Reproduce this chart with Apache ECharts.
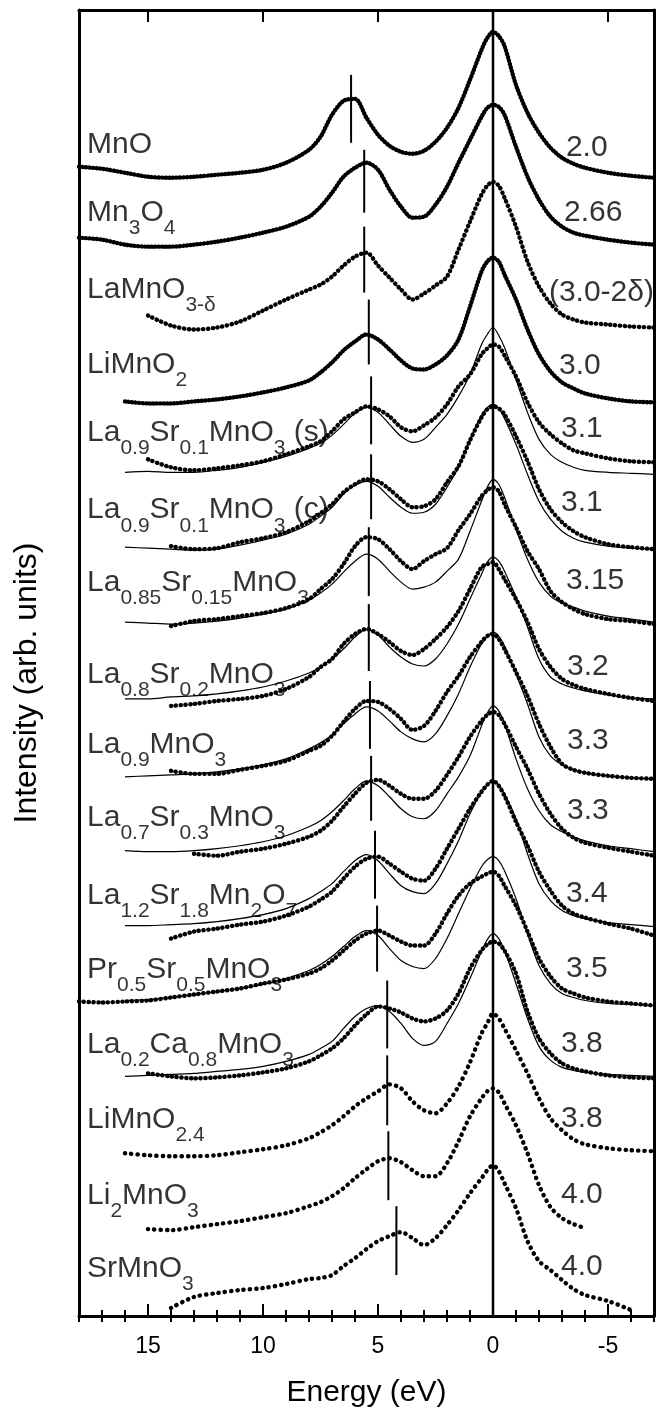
<!DOCTYPE html>
<html><head><meta charset="utf-8">
<script src="https://cdn.jsdelivr.net/npm/echarts@6/dist/echarts.min.js"></script>
<style>html,body{margin:0;padding:0;background:#fff}#c{width:657px;height:1413px}</style>
</head><body><div id="c"></div>
<script>
// ---------- data ----------
const energy = [18,17,16,15,14,13,12,11,10,9,8,7.5,7,6.5,6,5.5,5,4.5,4,3.5,3,2.5,2,1.5,1,0.5,0.25,0,-0.25,-0.5,-1,-1.5,-2,-2.5,-3,-3.5,-4,-5,-6,-7];
const tickLabels = [-5,0,5,10,15];
const minorTicks = [-7,-6,-4,-3,-2,-1,1,2,3,4,6,7,8,9,11,12,13,14,16,17,18];

const compounds = ['MnO','Mn_{3}O_{4}','LaMnO_{3-δ}','LiMnO_{2}','La_{0.9}Sr_{0.1}MnO_{3} (s)','La_{0.9}Sr_{0.1}MnO_{3} (c)',
  'La_{0.85}Sr_{0.15}MnO_{3}','La_{0.8}Sr_{0.2}MnO_{3}','La_{0.9}MnO_{3}','La_{0.7}Sr_{0.3}MnO_{3}','La_{1.2}Sr_{1.8}Mn_{2}O_{7}',
  'Pr_{0.5}Sr_{0.5}MnO_{3}','La_{0.2}Ca_{0.8}MnO_{3}','LiMnO_{2.4}','Li_{2}MnO_{3}','SrMnO_{3}'];
const valence = ['2.0','2.66','(3.0-2δ)','3.0','3.1','3.1','3.15','3.2','3.3','3.3','3.4','3.5','3.8','3.8','4.0','4.0'];

// vertical offset of each spectrum (arb. units)
const offsets = [1140,1073,991,915,855,768,693,616,538,461,381,311,238,165,88,8];

// measured spectra (dots), intensity above each offset, on the energy grid
const sMnO      = [11,9,5,1,0,1,3,5,8,15,28,41,63,77,79,60,43,32,26,24,27,36,50,70,98,128,140,146,142,132,93,65,45,30,20,14,10,5,2,0];
const sMn3O4    = [7,5,0,-2,-2,0,3,7,12,18,28,38,52,68,77,82,75,55,38,27,28,40,58,82,105,128,137,140,138,130,98,68,45,28,18,12,9,5,2,0];
const sLaMnO3d  = [null,null,null,11,1,-3,-1,5,16,27,37,42,50,61,70,74,61,49,37,27,33,41,50,77,105,132,141,145,141,129,100,65,40,23,12,7,4,2,0,-1];
const sLiMnO2   = [null,null,1,-1,-1,1,3,6,10,15,22,30,40,52,61,68,63,53,42,34,33,38,47,63,96,131,141,145,141,128,103,73,48,31,20,14,9,4,1,0];
const sLSMO1s   = [null,null,null,3,-5,-8,-6,-3,1,8,16,21,31,43,50,56,53,46,35,31,37,45,58,76,88,108,114,118,116,107,86,60,40,28,19,12,9,4,1,0];
const sLSMO1c   = [null,null,null,null,3,0,1,7,11,17,28,36,45,57,65,70,68,60,50,42,43,50,67,83,109,132,140,143,141,135,113,88,60,40,27,18,12,5,2,0];
const sLSMO15   = [null,null,null,null,-2,3,5,8,11,16,25,35,45,60,78,87,85,75,63,55,63,70,76,94,110,128,134,137,133,120,97,73,55,33,22,15,10,5,3,0];
const sLSMO2    = [null,null,null,null,-5,-3,0,2,5,12,24,34,42,57,67,72,67,59,50,46,52,62,74,90,112,134,137,139,132,122,102,79,52,34,22,16,12,7,3,0];
const sLa09     = [null,null,null,null,8,5,5,9,13,18,28,33,43,57,70,78,77,70,60,49,53,68,87,103,122,137,143,145,140,130,107,83,55,32,15,9,6,3,1,0];
const sLSMO3    = [null,null,null,null,null,2,0,4,7,12,19,25,35,49,62,73,76,70,62,57,57,65,81,99,119,135,141,144,141,132,109,87,62,42,27,18,13,8,4,0];
const sLSMO327  = [null,null,null,null,-3,4,7,11,14,20,29,36,44,57,69,77,79,72,64,57,55,67,87,107,127,144,151,155,150,140,114,90,64,45,30,22,18,12,7,0];
const sPSMO     = [4,3,4,5,8,11,14,17,22,26,32,37,45,55,65,72,75,70,64,60,60,72,92,110,122,129,132,134,130,120,100,74,47,29,17,12,8,4,2,0];
const sLCMO     = [null,null,null,5,2,0,1,3,6,10,17,23,30,40,53,64,72,70,66,60,57,60,68,85,110,128,134,137,135,128,105,67,40,25,15,10,7,3,1,0];
const sLiMnO24  = [null,null,-2,-4,-5,-5,-4,-1,2,6,13,19,26,35,45,53,60,67,63,50,41,38,48,65,89,118,128,138,133,123,101,78,53,33,21,12,7,3,1,0];
const sLi2MnO3  = [null,null,null,-1,-2,1,4,7,11,15,22,26,32,40,50,59,67,70,66,58,52,52,65,87,112,130,137,140,136,125,103,75,43,21,10,4,0,null,null,null];
const sSrMnO3   = [null,null,null,null,0,11,15,18,20,24,29,30,33,42,50,59,67,72,76,70,63,70,83,98,115,130,138,143,137,125,100,67,47,38,28,19,13,7,-2,null];

// reference spectra (thin lines) overlaid on rows 5-13
const rLSMO1s   = [null,null,-10,-9,-10,-10,-8,-5,0,6,14,19,27,38,49,55,50,38,26,20,23,35,48,66,88,118,128,135,127,115,83,50,23,8,0,-5,-8,-10,-11,-12];
const rLSMO1c   = [null,null,2,1,0,-1,0,4,9,15,25,33,42,55,64,68,63,52,42,36,37,45,62,82,110,134,142,145,141,131,105,75,48,30,18,11,7,3,1,0];
const rLSMO15   = [null,null,2,1,0,1,3,6,10,15,24,31,40,52,63,70,65,53,42,35,37,42,53,65,93,123,137,145,140,127,95,65,42,28,21,17,13,8,5,2];
const rLSMO2    = [null,null,2,2,4,5,7,10,14,20,28,34,42,52,64,72,66,54,44,37,35,42,57,77,102,127,139,144,140,130,104,74,42,24,17,13,10,6,3,2];
const rLa09     = [null,null,2,3,4,5,7,10,14,20,30,36,44,55,65,72,68,58,47,40,37,45,63,85,112,135,143,147,143,133,105,75,42,23,14,9,6,3,1,0];
const rLSMO3    = [null,null,5,4,4,5,7,10,14,20,29,35,44,55,67,75,70,59,47,39,37,45,62,79,100,130,143,150,145,132,97,67,45,31,24,19,15,10,7,4];
const rLSMO327  = [null,null,10,10,11,12,14,17,21,27,37,44,52,64,75,81,75,62,50,44,42,52,72,95,122,144,151,155,151,142,117,82,52,35,25,20,17,13,11,9];
const rPSMO     = [null,null,5,6,8,11,14,17,21,27,35,41,49,59,69,75,70,57,45,39,37,47,67,92,117,139,146,149,145,135,107,72,40,22,12,8,5,2,1,0];
const rLCMO     = [null,null,2,3,4,5,7,9,12,17,24,30,37,50,62,70,73,67,55,40,33,37,55,75,100,127,139,145,140,128,95,60,32,18,11,8,6,4,3,2];

const spectra = [sMnO,sMn3O4,sLaMnO3d,sLiMnO2,sLSMO1s,sLSMO1c,sLSMO15,sLSMO2,sLa09,sLSMO3,sLSMO327,sPSMO,sLCMO,sLiMnO24,sLi2MnO3,sSrMnO3];
const references = [null,null,null,null,rLSMO1s,rLSMO1c,rLSMO15,rLSMO2,rLa09,rLSMO3,rLSMO327,rPSMO,rLCMO,null,null,null];

// satellite-peak markers: energy (eV) and vertical extent (arb. units)
const satE      = [6.17,5.6,5.6,5.4,5.3,5.3,5.4,5.4,5.35,5.3,5.13,5.04,4.6,4.6,4.55,4.2];
const satTop    = [1243,1168,1091,1018,941,863,790,713,636,561,486,411,336,261,185,110];
const satBottom = [1175,1105,1025,953,873,798,721,646,568,496,418,345,268,191,116,41];

// ---------- layout (label anchors, in axis units) ----------
const nameE = 17.65;
const nameV = [1167,1099,1022,947,879,801,728,636,566,493,415,341,266,191,114,41];
const valE  = [-3.17,-3.09,-2.43,-2.87,-2.96,-2.96,-3.17,-3.22,-3.22,-3.22,-3.17,-3.17,-2.96,-2.96,-2.96,-2.96];
const valV  = [1164,1099,1019,946,883,809,730,644,570,500,417,342,267,192,115,43];
// dot spacing per spectrum (denser for the smooth, low-noise spectra)
const dotGap = [3.2,3.2,4.5,3.2,4.5,4.5,4.5,4.5,4.5,4.5,4.5,4.5,4.5,6,6,6];

const FONT = "'Liberation Sans', Arial, Helvetica, sans-serif";
const INK = '#000';

function pairs(vals, off){
  const out = [];
  vals.forEach((v,k)=>{ if (v !== null) out.push([energy[k], off + v]); });
  return out;
}
function richName(s){
  return '{n|' + s.replace(/_\{([^}]*)\}/g, '}{s|$1}{n|') + '}';
}
const rich = {
  n: {fontSize: 30, fontFamily: FONT, color: INK, lineHeight: 42, verticalAlign: 'top'},
  s: {fontSize: 21, fontFamily: FONT, color: INK, lineHeight: 21, padding: [20, 0, 0, 0], verticalAlign: 'top'}
};

const series = [];
// zero-energy line
series.push({type:'line', data:[[0,0],[0,1308]], symbol:'none', silent:true,
  lineStyle:{color:INK, width:2.5}, z:3, animation:false});
// markers
satE.forEach((e,i)=>{
  series.push({type:'line', data:[[e,satTop[i]],[e,satBottom[i]]], symbol:'none', silent:true,
    lineStyle:{color:INK, width:2}, z:3, animation:false});
});
// reference thin lines
references.forEach((r,i)=>{
  if (!r) return;
  series.push({type:'line', data:pairs(r, offsets[i]), symbol:'none', smooth:0.3, silent:true,
    lineStyle:{color:INK, width:1.2}, z:4, animation:false});
});
// dotted measured spectra
spectra.forEach((s,i)=>{
  series.push({type:'line', data:pairs(s, offsets[i]), symbol:'none', smooth:0.3, silent:true,
    lineStyle:{color:INK, width:4.4, type:[0.3, dotGap[i]], cap:'round'}, z:5, animation:false});
});
// compound labels
series.push({type:'scatter', symbolSize:0, silent:true, animation:false, z:10,
  data: nameV.map((v,i)=>[nameE, v, i]),
  label:{show:true, position:'right', distance:0, color:INK, formatter:p=>richName(compounds[p.data[2]]), rich}
});
// valence labels
series.push({type:'scatter', symbolSize:0, silent:true, animation:false, z:10,
  data: valV.map((v,i)=>[valE[i], v, i]),
  label:{show:true, position:'right', distance:0, color:INK, formatter:p=>'{n|'+valence[p.data[2]]+'}', rich}
});

const xBase = {type:'value', min:-7, max:18, inverse:true, splitLine:{show:false},
  axisLine:{show:true, onZero:false, lineStyle:{color:INK, width:3}}};
const majorTick = {show:true, inside:true, length:12, customValues:tickLabels, lineStyle:{color:INK, width:2}};
const minorTick = {show:true, inside:true, length:6, customValues:minorTicks, lineStyle:{color:INK, width:2}};

const chart = echarts.init(document.getElementById('c'), null, {renderer:'canvas'});
chart.setOption({
  animation:false,
  backgroundColor:'#fff',
  grid:{left:79, right:3, top:10, bottom:95},
  xAxis:[
    Object.assign({}, xBase, {position:'bottom', axisTick:majorTick,
      axisLabel:{show:true, customValues:tickLabels, fontSize:23, fontFamily:FONT, color:INK, margin:19},
      name:'Energy (eV)', nameLocation:'middle', nameGap:62,
      nameTextStyle:{fontSize:30, fontFamily:FONT, color:INK}}),
    Object.assign({}, xBase, {position:'bottom', axisLine:{show:false}, axisTick:minorTick, axisLabel:{show:false}}),
    Object.assign({}, xBase, {position:'top', axisTick:majorTick, axisLabel:{show:false}}),
    Object.assign({}, xBase, {position:'top', axisLine:{show:false}, axisTick:minorTick, axisLabel:{show:false}})
  ],
  yAxis:[
    {type:'value', min:0, max:1308, position:'left', splitLine:{show:false},
     axisLine:{show:true, onZero:false, lineStyle:{color:INK, width:3}}, axisTick:{show:false}, axisLabel:{show:false},
     name:'Intensity (arb. units)', nameLocation:'middle', nameGap:36,
     nameTextStyle:{fontSize:32, fontFamily:FONT, color:INK, padding:[0,40,0,0]}},
    {type:'value', min:0, max:1308, position:'right', splitLine:{show:false},
     axisLine:{show:true, onZero:false, lineStyle:{color:INK, width:3}}, axisTick:{show:false}, axisLabel:{show:false}}
  ],
  series
});
</script></body></html>
